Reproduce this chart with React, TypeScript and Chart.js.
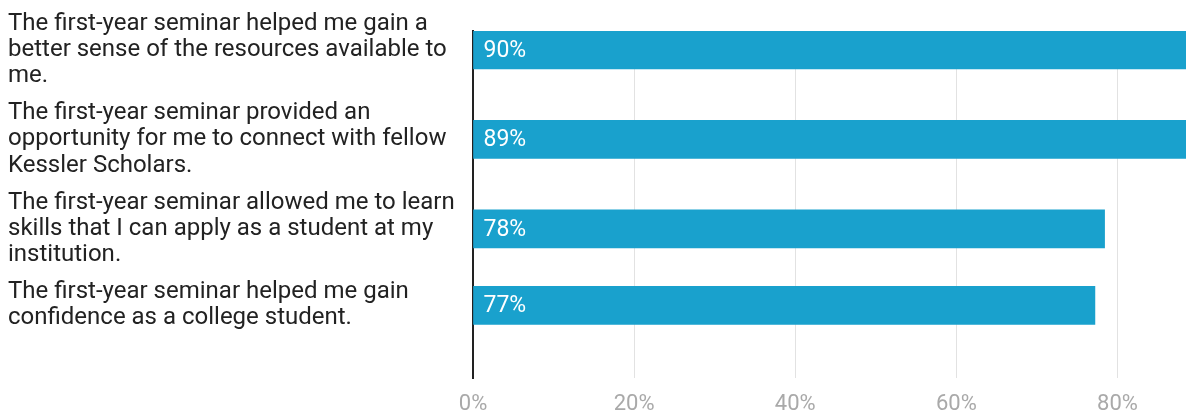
import React, { useEffect, useRef } from 'react';
import { Chart, registerables } from 'chart.js';

Chart.register(...registerables);

// Survey statements (each line as wrapped in the reference)
const statements: string[][] = [
  ['The first-year seminar helped me gain a', 'better sense of the resources available to', 'me.'],
  ['The first-year seminar provided an', 'opportunity for me to connect with fellow', 'Kessler Scholars.'],
  ['The first-year seminar allowed me to learn', 'skills that I can apply as a student at my', 'institution.'],
  ['The first-year seminar helped me gain', 'confidence as a college student.'],
];

// Share of respondents who agreed (%)
const agreePct: number[] = [90, 89.4, 78.4, 77.2];

// X-axis tick values (%)
const xTickValues: number[] = [0, 20, 40, 60, 80];

// Layout: each row is as tall as its wrapped label plus a gap (in label-line units)
const ROW_GAP = 0.44;
const rowCenters: number[] = (() => {
  const out: number[] = [];
  let acc = 0;
  statements.forEach((s) => {
    out.push(acc + s.length / 2);
    acc += s.length + ROW_GAP;
  });
  return out;
})();

const BAR_COLOR = '#19a1cd';
const FONT = 'Roboto';

const valueLabels = {
  id: 'valueLabels',
  afterDatasetsDraw(chart: any) {
    const ctx = chart.ctx;
    const meta = chart.getDatasetMeta(0);
    ctx.save();
    ctx.fillStyle = '#ffffff';
    ctx.font = `23px ${FONT}`;
    ctx.textAlign = 'left';
    ctx.textBaseline = 'middle';
    meta.data.forEach((bar: any, i: number) => {
      ctx.fillText(`${Math.round(agreePct[i])}%`, bar.base + 10, bar.y + 1);
    });
    ctx.restore();
  },
};

export default function App() {
  const ref = useRef<HTMLCanvasElement | null>(null);

  useEffect(() => {
    document.body.style.overflow = 'hidden';
    if (!ref.current) return;
    const chart = new Chart(ref.current, {
      type: 'bar',
      data: {
        datasets: [
          {
            data: agreePct.map((v, i) => ({ x: v, y: rowCenters[i] })),
            backgroundColor: BAR_COLOR,
            barThickness: 38,
            borderWidth: 0,
          },
        ],
      },
      options: {
        indexAxis: 'y',
        responsive: false,
        animation: false,
        layout: { padding: { top: 23, bottom: 0, left: 0, right: 0 } },
        plugins: {
          legend: { display: false },
          tooltip: { enabled: false },
        },
        scales: {
          x: {
            type: 'linear',
            position: 'bottom',
            min: 0,
            max: 89.5,
            afterBuildTicks: (axis: any) => {
              axis.ticks = xTickValues.map((v) => ({ value: v }));
            },
            afterFit: (s: any) => {
              s.height = 38;
              s.paddingLeft = 0;
              s.paddingRight = 0;
            },
            grid: { color: '#e2e2e2', lineWidth: 1, drawTicks: false },
            border: { display: false },
            ticks: {
              callback: (v: any) => `${v}%`,
              color: '#a9a9a9',
              font: { family: FONT, size: 22 },
              padding: 13,
              maxRotation: 0,
            },
          },
          y: {
            type: 'linear',
            reverse: true,
            offset: false,
            min: 0.77,
            max: 14.115,
            afterBuildTicks: (axis: any) => {
              axis.ticks = rowCenters.map((v) => ({ value: v }));
            },
            afterFit: (s: any) => {
              s.width = 465;
              s.paddingTop = 0;
              s.paddingBottom = 0;
            },
            grid: { display: false, drawTicks: false, offset: false },
            border: { display: true, color: '#222222', width: 2 },
            ticks: {
              callback: (_v: any, i: number) => statements[i],
              crossAlign: 'far',
              autoSkip: false,
              color: '#222222',
              font: { family: FONT, size: 24, lineHeight: 1.09 },
              padding: 0,
            },
          },
        },
      },
      plugins: [valueLabels],
    } as any);
    return () => chart.destroy();
  }, []);

  return (
    <div style={{ width: 1186, height: 408 }}>
      <canvas ref={ref} width={1186} height={408} />
    </div>
  );
}
